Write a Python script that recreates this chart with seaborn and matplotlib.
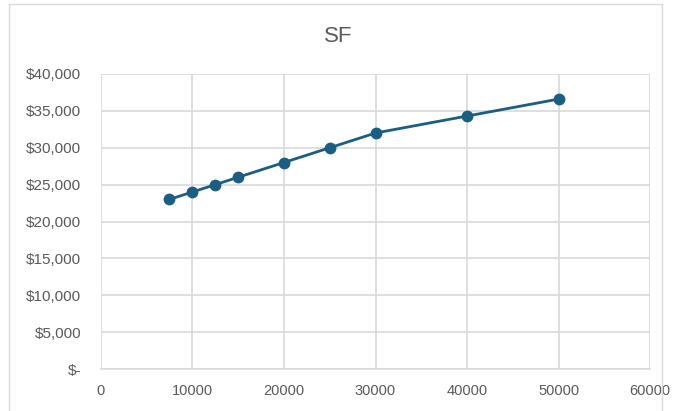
import matplotlib
matplotlib.use("Agg")
import matplotlib.pyplot as plt
import seaborn as sns
import pandas as pd
from matplotlib.patches import Rectangle
from matplotlib.ticker import FuncFormatter

units = [7500, 10000, 12500, 15000, 20000, 25000, 30000, 40000, 50000]
cost = [23000, 24000, 25000, 26000, 28000, 30000, 32000, 34300, 36600]
title = "SF"

sns.set_theme(style="white")
plt.rcParams['font.family'] = ['Liberation Sans', 'DejaVu Sans']

df = pd.DataFrame({"units": units, "cost": cost})

fig = plt.figure(figsize=(6.76, 4.11), dpi=100)
ax = fig.add_axes([0.149, 0.102, 0.813, 0.718])

sns.lineplot(data=df, x="units", y="cost", ax=ax, color="#1B5E82",
             marker="o", markersize=8.5, markeredgewidth=0, linewidth=2, zorder=3)

ax.set_xlim(0, 60000)
ax.set_ylim(0, 40000)
ax.set_xticks(range(0, 60001, 10000))
ax.set_yticks(range(0, 40001, 5000))
ax.xaxis.set_major_formatter(FuncFormatter(lambda v, p: f"{int(v)}"))
ax.yaxis.set_major_formatter(FuncFormatter(lambda v, p: "$-" if v == 0 else f"${int(v):,}"))
ax.grid(True, color="#D9D9D9", linewidth=1.2)
ax.set_axisbelow(True)
for s in ax.spines.values():
    s.set_visible(False)
ax.spines['bottom'].set_visible(True)
ax.spines['bottom'].set_color("#D9D9D9")
ax.spines['bottom'].set_linewidth(1.2)
ax.tick_params(axis='both', colors="#595959", length=0)
ax.tick_params(axis='x', labelsize=10.5, pad=11)
ax.tick_params(axis='y', labelsize=11, pad=14)
ax.set_xlabel("")
ax.set_ylabel("")
fig.text(0.5, 0.91, title, ha="center", va="center", fontsize=16, color="#595959")

fig.patches.append(Rectangle((9/676, -0.05), (662-9)/676, 1 - 4/411 + 0.05,
                             transform=fig.transFigure, fill=False,
                             edgecolor="#D9D9D9", linewidth=1))

fig.savefig("out.png", dpi=100)
